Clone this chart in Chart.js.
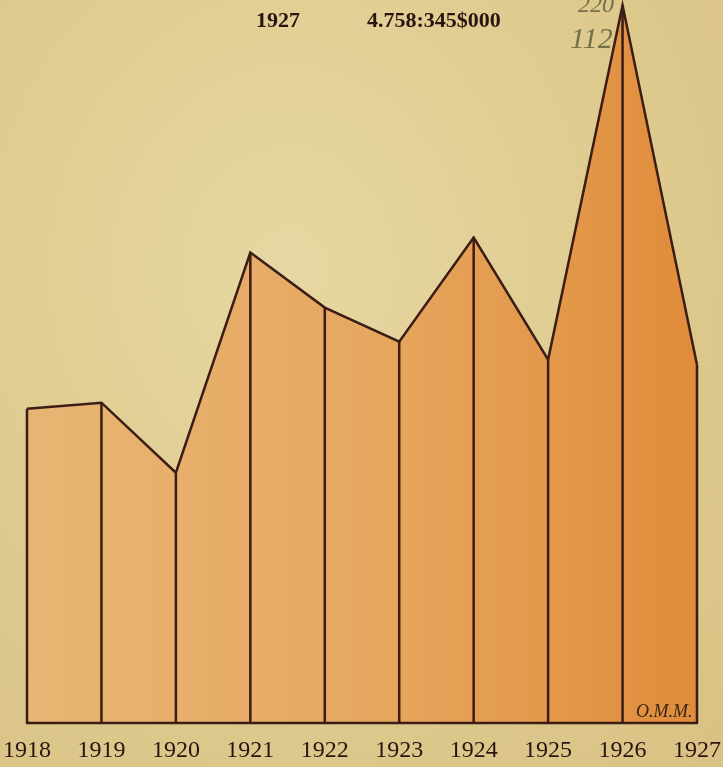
<!DOCTYPE html>
<html>
<head>
<meta charset="utf-8">
<script src="https://cdn.jsdelivr.net/npm/chart.js@4"></script>
<style>
  html, body { margin: 0; padding: 0; }
  body {
    width: 723px; height: 767px; overflow: hidden;
    background: radial-gradient(ellipse at 40% 35%, #e6d7a2 0%, #dfcb8f 55%, #d8c183 100%);
  }
  #wrap { position: relative; width: 723px; height: 767px; }
</style>
</head>
<body>
<div id="wrap"><canvas id="grafico" width="723" height="767"></canvas></div>
<script>
// dados (contos de réis)
const anos = ["1918", "1919", "1920", "1921", "1922", "1923", "1924", "1925", "1926", "1927"];
const valores = [4173, 4253, 3323, 6247, 5516, 5064, 6446, 4825, 9530, 4758];
const cabecalho = ["1927", "4.758:345$000"];

const tinta = "#3b1c16";

// linhas verticais de cada ano até a base + textos do papel
const verticais = {
  id: "verticais",
  afterDatasetsDraw(chart) {
    const { ctx, chartArea } = chart;
    const pts = chart.getDatasetMeta(0).data;
    ctx.save();
    ctx.strokeStyle = tinta;
    ctx.lineWidth = 2.5;
    pts.forEach((p) => {
      ctx.beginPath();
      ctx.moveTo(p.x, p.y);
      ctx.lineTo(p.x, chartArea.bottom);
      ctx.stroke();
    });
    ctx.beginPath();
    ctx.moveTo(pts[0].x - 1, chartArea.bottom);
    ctx.lineTo(pts[pts.length - 1].x + 1, chartArea.bottom);
    ctx.stroke();

    // cabeçalho da tabela (recortado)
    ctx.fillStyle = "#2a1410";
    ctx.font = "bold 22px 'Liberation Serif'";
    ctx.textBaseline = "middle";
    ctx.fillText(cabecalho[0], 256, 21);
    ctx.fillText(cabecalho[1], 367, 21);

    // anotação a lápis
    ctx.fillStyle = "#75704a";
    ctx.font = "italic 24px 'Liberation Serif'";
    ctx.fillText("220", 578, 6);
    ctx.font = "italic 30px 'Liberation Serif'";
    ctx.fillText("112", 570, 40);

    // assinatura
    ctx.fillStyle = "#3a2518";
    ctx.font = "italic 18px 'Liberation Serif'";
    ctx.textBaseline = "alphabetic";
    ctx.fillText("O.M.M.", 636, 717);
    ctx.restore();
  }
};

const ctx = document.getElementById("grafico");
const g = ctx.getContext("2d");
const preenchimento = g.createLinearGradient(27, 0, 697, 0);
preenchimento.addColorStop(0, "#e8b574");
preenchimento.addColorStop(0.5, "#e6a860");
preenchimento.addColorStop(1, "#e08c3a");

new Chart(ctx, {
  type: "line",
  data: {
    labels: anos,
    datasets: [
      {
        data: valores,
        fill: "origin",
        backgroundColor: preenchimento,
        borderColor: tinta,
        borderWidth: 2.5,
        pointRadius: 0,
        tension: 0,
      },
    ],
  },
  options: {
    responsive: false,
    animation: false,
    layout: { padding: { left: 27, right: 26, top: 0, bottom: 0 } },
    plugins: { legend: { display: false }, tooltip: { enabled: false } },
    scales: {
      x: {
        offset: false,
        grid: { display: false, drawTicks: false },
        border: { display: false },
        afterFit(scale) {
          scale.height = 44;
          scale.paddingLeft = 0;
          scale.paddingRight = 0;
        },
        ticks: {
          color: "#2a1410",
          padding: 13,
          maxRotation: 0,
          autoSkip: false,
          font: { family: "'Liberation Serif'", size: 24 },
        },
      },
      y: {
        display: false,
        min: 0,
        max: 9600,
      },
    },
  },
  plugins: [verticais],
});
</script>
</body>
</html>
